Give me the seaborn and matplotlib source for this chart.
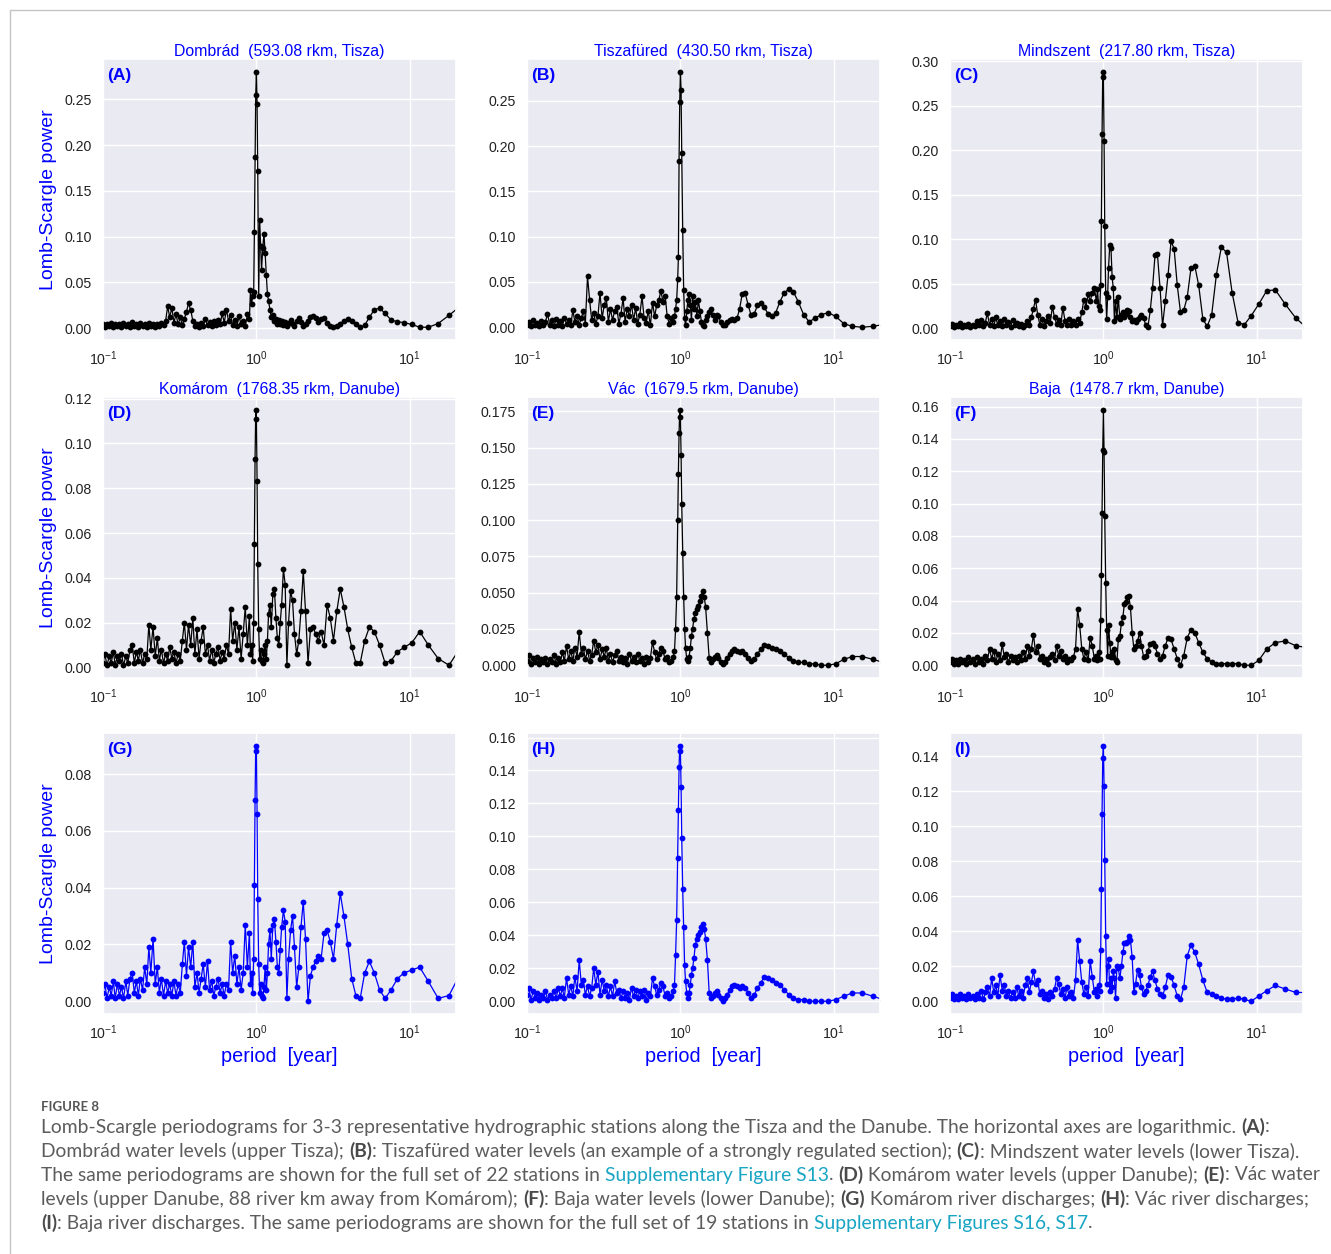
import matplotlib
matplotlib.use("Agg")
import matplotlib.pyplot as plt
from matplotlib.lines import Line2D
from matplotlib.ticker import MultipleLocator
import seaborn as sns

sns.set_theme(style="darkgrid")
plt.rcParams["font.family"] = ["Liberation Sans", "DejaVu Sans"]

# periods [year] shared by every periodogram
PERIOD = [
    0.100, 0.103, 0.106, 0.110, 0.113, 0.117, 0.120, 0.124, 0.128, 0.132, 0.136, 0.141, 0.145,
    0.150, 0.155, 0.160, 0.165, 0.170, 0.175, 0.181, 0.187, 0.193, 0.199, 0.205, 0.212, 0.219,
    0.226, 0.233, 0.240, 0.248, 0.256, 0.264, 0.272, 0.281,
    0.290, 0.299, 0.309, 0.319, 0.329, 0.339, 0.350, 0.361,
    0.373, 0.385, 0.397, 0.410, 0.423, 0.436, 0.450, 0.465, 0.480,
    0.495, 0.511, 0.527, 0.544, 0.562, 0.580, 0.598, 0.617, 0.637, 0.658,
    0.679, 0.700, 0.723, 0.746, 0.770, 0.795, 0.820, 0.846, 0.873, 0.900,
    0.915, 0.930, 0.945, 0.960, 0.970, 0.980, 0.990, 1.000, 1.010, 1.020,
    1.035, 1.050, 1.065, 1.080, 1.100, 1.120, 1.140, 1.160, 1.180, 1.200, 1.225,
    1.25, 1.28, 1.31, 1.34, 1.37, 1.40, 1.43, 1.46, 1.50, 1.54,
    1.58, 1.62, 1.67, 1.72, 1.77, 1.83, 1.89, 1.95, 2.02, 2.09,
    2.17, 2.25, 2.34, 2.43, 2.53, 2.64, 2.76, 2.89, 3.03, 3.18,
    3.34, 3.52, 3.72, 3.94, 4.18, 4.45, 4.75, 5.08, 5.45, 5.87,
    6.35, 6.90, 7.55, 8.30, 9.20, 10.3, 11.6, 13.2, 15.3, 18.0, 21.0,
]

# (A) Dombrad water level
POWER_A = [
    0.004, 0.001, 0.005, 0.002, 0.006, 0.001, 0.004, 0.002, 0.005, 0.001, 0.006, 0.002, 0.004,
    0.001, 0.007, 0.002, 0.005, 0.001, 0.006, 0.002, 0.004, 0.001, 0.006, 0.002, 0.005, 0.001,
    0.004, 0.002, 0.006, 0.003, 0.008, 0.024, 0.012, 0.022,
    0.006, 0.015, 0.004, 0.012, 0.003, 0.010, 0.018, 0.027,
    0.020, 0.008, 0.002, 0.005, 0.001, 0.006, 0.002, 0.010, 0.003,
    0.007, 0.002, 0.008, 0.003, 0.009, 0.004, 0.016, 0.006, 0.020, 0.008,
    0.014, 0.003, 0.009, 0.002, 0.013, 0.004, 0.008, 0.002, 0.015, 0.010,
    0.042, 0.026, 0.035, 0.040, 0.105, 0.187, 0.255, 0.280, 0.245, 0.172,
    0.035, 0.118, 0.090, 0.063, 0.088, 0.103, 0.082, 0.058, 0.037, 0.030, 0.020,
    0.012, 0.014, 0.008, 0.010, 0.005, 0.009, 0.004, 0.008, 0.003, 0.007,
    0.002, 0.006, 0.009, 0.004, 0.002, 0.008, 0.011, 0.007, 0.002, 0.004,
    0.008, 0.012, 0.013, 0.011, 0.007, 0.010, 0.011, 0.006, 0.002, 0.001,
    0.002, 0.005, 0.008, 0.010, 0.008, 0.004, 0.001, 0.003, 0.012, 0.020,
    0.022, 0.016, 0.009, 0.007, 0.006, 0.004, 0.001, 0.001, 0.005, 0.014, 0.023,
]

# (B) Tiszafured water level
POWER_B = [
    0.003, 0.006, 0.001, 0.008, 0.002, 0.005, 0.001, 0.007, 0.003, 0.006, 0.015, 0.002, 0.008,
    0.001, 0.009, 0.003, 0.007, 0.001, 0.010, 0.004, 0.008, 0.002, 0.019, 0.006, 0.012, 0.003,
    0.010, 0.018, 0.004, 0.056, 0.030, 0.008, 0.016, 0.004,
    0.012, 0.038, 0.010, 0.025, 0.032, 0.006, 0.020, 0.008,
    0.018, 0.022, 0.004, 0.015, 0.032, 0.006, 0.020, 0.012, 0.025,
    0.008, 0.021, 0.004, 0.014, 0.034, 0.010, 0.005, 0.018, 0.002, 0.027,
    0.012, 0.024, 0.030, 0.040, 0.028, 0.035, 0.012, 0.004, 0.010, 0.006,
    0.012, 0.020, 0.030, 0.053, 0.077, 0.184, 0.249, 0.282, 0.262, 0.192,
    0.107, 0.041, 0.010, 0.002, 0.018, 0.030, 0.037, 0.025, 0.008, 0.035, 0.020,
    0.028, 0.012, 0.030, 0.018, 0.006, 0.002, 0.001, 0.008, 0.012, 0.017,
    0.020, 0.014, 0.008, 0.014, 0.012, 0.006, 0.002, 0.003, 0.006, 0.008,
    0.009, 0.008, 0.010, 0.020, 0.037, 0.038, 0.025, 0.013, 0.015, 0.024,
    0.027, 0.022, 0.015, 0.012, 0.016, 0.028, 0.038, 0.042, 0.039, 0.028,
    0.014, 0.006, 0.010, 0.014, 0.016, 0.012, 0.004, 0.001, 0.000, 0.001, 0.003,
]

# (C) Mindszent water level
POWER_C = [
    0.002, 0.005, 0.001, 0.004, 0.002, 0.006, 0.001, 0.004, 0.002, 0.005, 0.001, 0.004, 0.002,
    0.008, 0.003, 0.009, 0.002, 0.006, 0.017, 0.004, 0.010, 0.002, 0.012, 0.003, 0.008, 0.002,
    0.010, 0.003, 0.007, 0.001, 0.009, 0.004, 0.006, 0.002,
    0.005, 0.001, 0.004, 0.008, 0.003, 0.012, 0.022, 0.032,
    0.015, 0.004, 0.010, 0.002, 0.008, 0.014, 0.006, 0.024, 0.012,
    0.005, 0.009, 0.003, 0.023, 0.008, 0.004, 0.010, 0.003, 0.008, 0.004,
    0.010, 0.006, 0.018, 0.032, 0.024, 0.038, 0.030, 0.040, 0.045, 0.030,
    0.044, 0.025, 0.020, 0.048, 0.120, 0.218, 0.288, 0.282, 0.210, 0.115,
    0.040, 0.010, 0.035, 0.068, 0.093, 0.090, 0.057, 0.045, 0.008, 0.030, 0.012,
    0.035, 0.010, 0.015, 0.018, 0.012, 0.016, 0.020, 0.019, 0.012, 0.008,
    0.009, 0.007, 0.010, 0.012, 0.015, 0.011, 0.003, 0.001, 0.020, 0.045,
    0.082, 0.083, 0.045, 0.003, 0.030, 0.060, 0.098, 0.089, 0.048, 0.018,
    0.020, 0.035, 0.067, 0.070, 0.048, 0.010, 0.002, 0.015, 0.060, 0.091,
    0.085, 0.040, 0.006, 0.004, 0.014, 0.027, 0.042, 0.043, 0.027, 0.011, 0.001,
]

# (D) Komarom water level
POWER_D = [
    0.002, 0.006, 0.001, 0.005, 0.002, 0.007, 0.001, 0.005, 0.003, 0.006, 0.001, 0.005, 0.002,
    0.008, 0.010, 0.002, 0.007, 0.003, 0.008, 0.002, 0.006, 0.004, 0.019, 0.008, 0.018, 0.005,
    0.013, 0.003, 0.008, 0.002, 0.006, 0.003, 0.009, 0.004,
    0.007, 0.002, 0.006, 0.003, 0.012, 0.020, 0.008, 0.019,
    0.010, 0.022, 0.006, 0.017, 0.004, 0.012, 0.018, 0.006, 0.010,
    0.003, 0.008, 0.002, 0.006, 0.009, 0.003, 0.007, 0.004, 0.010, 0.006,
    0.026, 0.012, 0.020, 0.008, 0.018, 0.004, 0.015, 0.027, 0.010, 0.023,
    0.006, 0.010, 0.003, 0.020, 0.055, 0.093, 0.115, 0.111, 0.083, 0.046,
    0.017, 0.004, 0.008, 0.003, 0.002, 0.006, 0.010, 0.004, 0.012, 0.024, 0.028,
    0.018, 0.033, 0.035, 0.022, 0.013, 0.010, 0.020, 0.028, 0.044, 0.037,
    0.001, 0.020, 0.034, 0.030, 0.015, 0.006, 0.012, 0.025, 0.043, 0.025,
    0.002, 0.017, 0.018, 0.015, 0.012, 0.016, 0.010, 0.028, 0.022, 0.012,
    0.025, 0.035, 0.027, 0.017, 0.009, 0.002, 0.002, 0.012, 0.018, 0.016,
    0.010, 0.002, 0.003, 0.007, 0.009, 0.011, 0.016, 0.010, 0.004, 0.001, 0.008,
]

# (E) Vac water level
POWER_E = [
    0.003, 0.007, 0.001, 0.005, 0.002, 0.006, 0.001, 0.004, 0.002, 0.005, 0.001, 0.004, 0.002,
    0.007, 0.001, 0.005, 0.002, 0.009, 0.003, 0.013, 0.004, 0.010, 0.003, 0.012, 0.006, 0.023,
    0.008, 0.012, 0.004, 0.010, 0.003, 0.007, 0.017, 0.009,
    0.014, 0.004, 0.011, 0.006, 0.012, 0.003, 0.008, 0.002,
    0.007, 0.010, 0.003, 0.006, 0.002, 0.005, 0.001, 0.008, 0.003,
    0.006, 0.002, 0.008, 0.003, 0.005, 0.001, 0.006, 0.002, 0.005, 0.016,
    0.009, 0.004, 0.008, 0.012, 0.010, 0.004, 0.006, 0.002, 0.003, 0.006,
    0.010, 0.025, 0.047, 0.100, 0.132, 0.160, 0.176, 0.171, 0.145, 0.111,
    0.077, 0.047, 0.025, 0.012, 0.004, 0.003, 0.006, 0.012, 0.020, 0.025, 0.032,
    0.036, 0.039, 0.041, 0.044, 0.048, 0.051, 0.047, 0.040, 0.022, 0.005,
    0.002, 0.004, 0.006, 0.007, 0.005, 0.002, 0.001, 0.002, 0.005, 0.008,
    0.010, 0.011, 0.010, 0.009, 0.010, 0.008, 0.005, 0.003, 0.004, 0.008,
    0.011, 0.014, 0.013, 0.012, 0.011, 0.010, 0.008, 0.005, 0.003, 0.002,
    0.002, 0.001, 0.001, 0.000, 0.000, 0.001, 0.004, 0.006, 0.006, 0.004, 0.002,
]

# (F) Baja water level
POWER_F = [
    0.002, 0.004, 0.001, 0.003, 0.001, 0.004, 0.002, 0.003, 0.001, 0.005, 0.002, 0.004, 0.001,
    0.005, 0.002, 0.004, 0.001, 0.006, 0.003, 0.010, 0.004, 0.009, 0.002, 0.007, 0.003, 0.013,
    0.005, 0.007, 0.002, 0.006, 0.003, 0.005, 0.002, 0.006,
    0.003, 0.008, 0.004, 0.012, 0.006, 0.010, 0.019, 0.008,
    0.012, 0.004, 0.006, 0.002, 0.004, 0.001, 0.005, 0.007, 0.003,
    0.012, 0.006, 0.009, 0.004, 0.006, 0.002, 0.004, 0.003, 0.005, 0.010,
    0.035, 0.025, 0.010, 0.004, 0.008, 0.003, 0.017, 0.012, 0.004, 0.006,
    0.003, 0.008, 0.004, 0.028, 0.056, 0.094, 0.133, 0.158, 0.132, 0.092,
    0.051, 0.022, 0.006, 0.025, 0.014, 0.005, 0.008, 0.005, 0.010, 0.003, 0.002,
    0.016, 0.018, 0.026, 0.030, 0.038, 0.039, 0.042, 0.043, 0.036, 0.020,
    0.010, 0.012, 0.015, 0.020, 0.012, 0.005, 0.006, 0.009, 0.013, 0.014,
    0.012, 0.007, 0.004, 0.006, 0.012, 0.017, 0.016, 0.010, 0.004, 0.000,
    0.006, 0.017, 0.022, 0.020, 0.014, 0.008, 0.004, 0.002, 0.001, 0.001,
    0.001, 0.001, 0.001, 0.000, 0.000, 0.003, 0.010, 0.014, 0.015, 0.012, 0.011,
]

# (G) Komarom discharge
POWER_G = [
    0.003, 0.006, 0.001, 0.005, 0.002, 0.007, 0.001, 0.006, 0.002, 0.005, 0.001, 0.007, 0.002,
    0.008, 0.010, 0.003, 0.007, 0.002, 0.008, 0.004, 0.012, 0.006, 0.019, 0.010, 0.022, 0.006,
    0.012, 0.003, 0.008, 0.002, 0.007, 0.003, 0.006, 0.002,
    0.007, 0.002, 0.006, 0.003, 0.013, 0.021, 0.009, 0.019,
    0.012, 0.021, 0.005, 0.010, 0.003, 0.008, 0.013, 0.005, 0.014,
    0.004, 0.007, 0.002, 0.005, 0.008, 0.003, 0.006, 0.002, 0.006, 0.004,
    0.021, 0.010, 0.016, 0.006, 0.012, 0.004, 0.010, 0.027, 0.012, 0.024,
    0.006, 0.010, 0.003, 0.015, 0.041, 0.071, 0.090, 0.088, 0.066, 0.036,
    0.013, 0.003, 0.006, 0.002, 0.001, 0.005, 0.012, 0.004, 0.010, 0.020, 0.025,
    0.015, 0.027, 0.029, 0.021, 0.012, 0.010, 0.018, 0.026, 0.032, 0.028,
    0.001, 0.015, 0.025, 0.030, 0.019, 0.005, 0.012, 0.026, 0.035, 0.022,
    0.000, 0.009, 0.012, 0.014, 0.016, 0.015, 0.024, 0.025, 0.021, 0.015,
    0.027, 0.038, 0.030, 0.020, 0.008, 0.002, 0.001, 0.010, 0.014, 0.010,
    0.004, 0.001, 0.004, 0.008, 0.010, 0.011, 0.012, 0.007, 0.001, 0.002, 0.009,
]

# (H) Vac discharge
POWER_H = [
    0.004, 0.008, 0.001, 0.006, 0.002, 0.005, 0.001, 0.004, 0.002, 0.006, 0.001, 0.004, 0.002,
    0.006, 0.002, 0.008, 0.003, 0.008, 0.002, 0.014, 0.004, 0.009, 0.003, 0.015, 0.006, 0.025,
    0.010, 0.013, 0.004, 0.009, 0.003, 0.008, 0.020, 0.010,
    0.018, 0.004, 0.013, 0.006, 0.010, 0.003, 0.009, 0.003,
    0.012, 0.005, 0.007, 0.002, 0.006, 0.002, 0.005, 0.001, 0.008,
    0.003, 0.007, 0.002, 0.006, 0.003, 0.007, 0.001, 0.005, 0.003, 0.014,
    0.009, 0.004, 0.007, 0.011, 0.009, 0.003, 0.005, 0.002, 0.003, 0.006,
    0.010, 0.028, 0.049, 0.087, 0.116, 0.142, 0.155, 0.152, 0.130, 0.099,
    0.068, 0.045, 0.022, 0.012, 0.005, 0.002, 0.005, 0.010, 0.016, 0.020, 0.026,
    0.034, 0.038, 0.040, 0.042, 0.045, 0.047, 0.044, 0.038, 0.025, 0.005,
    0.002, 0.003, 0.005, 0.006, 0.004, 0.002, 0.000, 0.002, 0.004, 0.007,
    0.009, 0.010, 0.009, 0.008, 0.009, 0.008, 0.005, 0.002, 0.004, 0.008,
    0.011, 0.015, 0.014, 0.013, 0.011, 0.010, 0.007, 0.004, 0.002, 0.001,
    0.001, 0.000, 0.000, 0.000, 0.000, 0.001, 0.003, 0.005, 0.005, 0.003, 0.001,
]

# (I) Baja discharge
POWER_I = [
    0.002, 0.004, 0.001, 0.003, 0.001, 0.004, 0.002, 0.003, 0.001, 0.004, 0.002, 0.003, 0.001,
    0.004, 0.002, 0.006, 0.001, 0.005, 0.008, 0.003, 0.013, 0.005, 0.009, 0.003, 0.015, 0.006,
    0.009, 0.003, 0.006, 0.002, 0.005, 0.002, 0.008, 0.003,
    0.006, 0.002, 0.009, 0.013, 0.005, 0.011, 0.017, 0.010,
    0.012, 0.004, 0.006, 0.002, 0.004, 0.001, 0.005, 0.003, 0.007,
    0.013, 0.010, 0.004, 0.007, 0.002, 0.008, 0.003, 0.005, 0.002, 0.012,
    0.035, 0.023, 0.011, 0.004, 0.008, 0.003, 0.023, 0.014, 0.005, 0.007,
    0.003, 0.009, 0.006, 0.029, 0.064, 0.107, 0.139, 0.146, 0.123, 0.081,
    0.037, 0.010, 0.020, 0.024, 0.006, 0.013, 0.008, 0.017, 0.013, 0.002, 0.020,
    0.019, 0.013, 0.020, 0.028, 0.033, 0.033, 0.034, 0.037, 0.035, 0.025,
    0.005, 0.010, 0.018, 0.015, 0.008, 0.004, 0.006, 0.009, 0.014, 0.017,
    0.012, 0.007, 0.004, 0.003, 0.008, 0.015, 0.014, 0.009, 0.003, 0.001,
    0.008, 0.026, 0.032, 0.028, 0.021, 0.012, 0.005, 0.004, 0.003, 0.002,
    0.001, 0.001, 0.002, 0.001, 0.000, 0.003, 0.006, 0.009, 0.007, 0.005, 0.005,
]

POWERS = [POWER_A, POWER_B, POWER_C, POWER_D, POWER_E, POWER_F, POWER_G, POWER_H, POWER_I]
TITLES = [
    "Dombrád  (593.08 rkm, Tisza)",
    "Tiszafüred  (430.50 rkm, Tisza)",
    "Mindszent  (217.80 rkm, Tisza)",
    "Komárom  (1768.35 rkm, Danube)",
    "Vác  (1679.5 rkm, Danube)",
    "Baja  (1478.7 rkm, Danube)",
    None, None, None,
]
PANEL_LABELS = ["(A)", "(B)", "(C)", "(D)", "(E)", "(F)", "(G)", "(H)", "(I)"]
Y_STEPS = [0.05, 0.05, 0.05, 0.02, 0.025, 0.02, 0.02, 0.02, 0.02]

# layout in pixels of the 1331x1254 canvas
W, H = 1331, 1254
LEFTS = [103, 527, 950]
TOPS = [59, 397, 733]
AX_W, AX_H = 353, 281

fig = plt.figure(figsize=(W / 100, H / 100), dpi=100)

for i, power in enumerate(POWERS):
    assert len(power) == len(PERIOD), (i, len(power))
    r, c = divmod(i, 3)
    ax = fig.add_axes([LEFTS[c] / W, 1 - (TOPS[r] + AX_H) / H, AX_W / W, AX_H / H])
    col = "black" if r < 2 else "blue"
    sns.lineplot(x=PERIOD, y=power, ax=ax, color=col, linewidth=0.9,
                 marker="o", markersize=4.2, markeredgewidth=0,
                 sort=False, estimator=None)
    ax.set_xscale("log")
    ax.set_xlim(0.1, 20)
    ax.yaxis.set_major_locator(MultipleLocator(Y_STEPS[i]))
    ax.tick_params(axis="both", which="both", length=0, labelsize=10.2, colors="#222222")
    ax.tick_params(axis="y", pad=8)
    ax.tick_params(axis="x", pad=6.5)
    if TITLES[i]:
        ax.set_title(TITLES[i], color="blue", fontsize=11.4, pad=2)
    ax.text(0.012, 0.943, PANEL_LABELS[i], transform=ax.transAxes, color="blue",
            fontweight="bold", fontsize=12.5, ha="left", va="center")
    if c == 0:
        ax.set_ylabel("Lomb-Scargle power", color="blue", fontsize=14)
        ax.yaxis.set_label_coords(-0.130, 0.5)
    else:
        ax.set_ylabel("")
    if r == 2:
        ax.set_xlabel("period  [year]", color="blue", fontsize=14.3)
        ax.xaxis.set_label_coords(0.5, -0.118)
    else:
        ax.set_xlabel("")

# page frame
fig.add_artist(Line2D([9.5 / W, 1], [1 - 10 / H, 1 - 10 / H], transform=fig.transFigure,
                      color="#c4c4c4", lw=1))
fig.add_artist(Line2D([9.5 / W, 9.5 / W], [1 - 10 / H, 0], transform=fig.transFigure,
                      color="#c4c4c4", lw=1))

# caption
CAP_FONT = "Lato"
TXT, BOLD, LINK = "#5c5c5c", "#4a4a4a", "#19a5c4"
CAPTION = [
    [("Lomb-Scargle periodograms for 3-3 representative hydrographic stations along the Tisza "
      "and the Danube. The horizontal axes are logarithmic. ", "t"), ("(A)", "b"), (":", "t")],
    [("Dombrád water levels (upper Tisza); ", "t"), ("(B)", "b"),
     (": Tiszafüred water levels (an example of a strongly regulated section); ", "t"),
     ("(C)", "b"), (": Mindszent water levels (lower Tisza).", "t")],
    [("The same periodograms are shown for the full set of 22 stations in ", "t"),
     ("Supplementary Figure S13", "l"), (". ", "t"), ("(D)", "b"),
     (" Komárom water levels (upper Danube); ", "t"), ("(E)", "b"), (": Vác water", "t")],
    [("levels (upper Danube, 88 river km away from Komárom); ", "t"), ("(F)", "b"),
     (": Baja water levels (lower Danube); ", "t"), ("(G)", "b"),
     (" Komárom river discharges; ", "t"), ("(H)", "b"), (": Vác river discharges;", "t")],
    [("(I)", "b"), (": Baja river discharges. The same periodograms are shown for the full set "
                    "of 19 stations in ", "t"), ("Supplementary Figures S16, S17", "l"), (".", "t")],
]
CAP_Y = [1127, 1151, 1175, 1199, 1223]

renderer = fig.canvas.get_renderer()


def line_width(segs, size):
    total = 0
    for s, kind in segs:
        t = fig.text(0, 0, s, fontsize=size, family=CAP_FONT,
                     fontweight="bold" if kind == "b" else "normal")
        total += t.get_window_extent(renderer).width
        t.remove()
    return total


widest = max(line_width(segs, 12) for segs in CAPTION)
cap_size = 12 * 1278 / widest

for segs, y in zip(CAPTION, CAP_Y):
    x = 41
    for s, kind in segs:
        t = fig.text(x / W, 1 - y / H, s, fontsize=cap_size, family=CAP_FONT,
                     ha="left", va="center",
                     color={"t": TXT, "b": BOLD, "l": LINK}[kind],
                     fontweight="bold" if kind == "b" else "normal")
        x += t.get_window_extent(renderer).width

fig.text(41 / W, 1 - 1107 / H, "FIGURE 8", fontsize=9.5, family=CAP_FONT,
         fontweight="bold", color="#555555", ha="left", va="center")

fig.savefig("out.png", dpi=100)
